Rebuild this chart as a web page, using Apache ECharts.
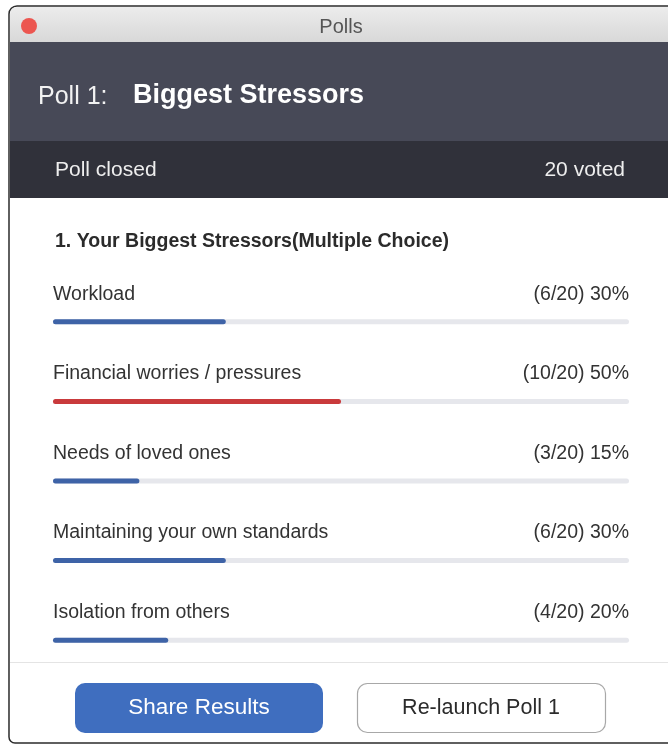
<!DOCTYPE html>
<html>
<head>
<meta charset="utf-8">
<script src="https://cdn.jsdelivr.net/npm/echarts@6/dist/echarts.min.js"></script>
<style>
html,body{margin:0;padding:0;background:#fff;}
#chart{width:668px;height:748px;}
</style>
</head>
<body>
<div id="chart"></div>
<script>
const categories = ['Workload', 'Financial worries / pressures', 'Needs of loved ones', 'Maintaining your own standards', 'Isolation from others'];
const votes = [6, 10, 3, 6, 4];
const totalVoted = 20;
const percentLabels = ['30%', '50%', '15%', '30%', '20%'];
const highlightIndex = 1;

const FONT = '"Liberation Sans", Arial, Helvetica, sans-serif';
const chart = echarts.init(document.getElementById('chart'), null, {renderer: 'canvas'});

const option = {
  animation: false,
  backgroundColor: '#ffffff',
  grid: {left: 53, right: 39, top: 282, height: 398, containLabel: false},
  xAxis: {type: 'value', min: 0, max: totalVoted, show: false},
  yAxis: {type: 'category', data: categories, inverse: true, show: false},
  graphic: [
    {type: 'rect', shape: {x: 9, y: 6, width: 680, height: 737, r: [8, 0, 0, 6]}, style: {fill: '#ffffff', stroke: '#2b2b2b', lineWidth: 1.5}, z: 0},
    {type: 'rect', shape: {x: 10, y: 7, width: 670, height: 35, r: [7, 0, 0, 0]},
      style: {fill: new echarts.graphic.LinearGradient(0, 0, 0, 1, [{offset: 0, color: '#ececec'}, {offset: 1, color: '#d8d8d8'}])}, z: 1},
    {type: 'circle', shape: {cx: 29, cy: 26, r: 8}, style: {fill: '#ec5650'}, z: 2},
    {type: 'text', x: 341, y: 27, style: {text: 'Polls', font: '20px ' + FONT, fill: '#555555', align: 'center', verticalAlign: 'middle'}, z: 2},
    {type: 'rect', shape: {x: 10, y: 42, width: 670, height: 99}, style: {fill: '#474957'}, z: 1},
    {type: 'text', x: 38, y: 97, style: {text: 'Poll 1:', font: '25px ' + FONT, fill: '#f2f2f2', verticalAlign: 'middle'}, z: 2},
    {type: 'text', x: 133, y: 96, style: {text: 'Biggest Stressors', font: 'bold 27px ' + FONT, fill: '#ffffff', verticalAlign: 'middle'}, z: 2},
    {type: 'rect', shape: {x: 10, y: 141, width: 670, height: 57}, style: {fill: '#30313a'}, z: 1},
    {type: 'text', x: 55, y: 170, style: {text: 'Poll closed', font: '21px ' + FONT, fill: '#eeeeee', verticalAlign: 'middle'}, z: 2},
    {type: 'text', x: 625, y: 170, style: {text: totalVoted + ' voted', font: '21px ' + FONT, fill: '#eeeeee', align: 'right', verticalAlign: 'middle'}, z: 2},
    {type: 'text', x: 55, y: 242, style: {text: '1. Your Biggest Stressors(Multiple Choice)', font: 'bold 19.5px ' + FONT, fill: '#2b2b2b', verticalAlign: 'middle'}, z: 2},
    {type: 'line', shape: {x1: 10, y1: 662.5, x2: 668, y2: 662.5}, style: {stroke: '#e4e4e4', lineWidth: 1}, z: 2},
    {type: 'rect', shape: {x: 75, y: 683, width: 248, height: 50, r: 10}, style: {fill: '#3f6ebf'}, z: 2},
    {type: 'text', x: 199, y: 708, style: {text: 'Share Results', font: '22.5px ' + FONT, fill: '#ffffff', align: 'center', verticalAlign: 'middle'}, z: 3},
    {type: 'rect', shape: {x: 357.5, y: 683.5, width: 248, height: 49, r: 10}, style: {fill: '#ffffff', stroke: '#a8a8a8', lineWidth: 1.2}, z: 2},
    {type: 'text', x: 481, y: 708, style: {text: 'Re-launch Poll 1', font: '21.5px ' + FONT, fill: '#2b2b2b', align: 'center', verticalAlign: 'middle'}, z: 3}
  ],
  series: [
    {
      name: 'track',
      type: 'bar',
      barWidth: 5,
      z: 2,
      data: categories.map(() => totalVoted),
      itemStyle: {color: '#e6e7ec', borderRadius: 3},
      label: {
        show: true,
        position: ['100%', -25],
        align: 'right',
        verticalAlign: 'middle',
        fontSize: 19.5,
        fontFamily: FONT,
        color: '#333333',
        formatter: p => '(' + votes[p.dataIndex] + '/' + totalVoted + ') ' + percentLabels[p.dataIndex]
      },
      silent: true
    },
    {
      name: 'votes',
      type: 'bar',
      barWidth: 5,
      barGap: '-100%',
      z: 3,
      data: votes.map((v, i) => ({value: v, itemStyle: {color: i === highlightIndex ? '#c93a3c' : '#3e63a7'}})),
      itemStyle: {borderRadius: 3},
      label: {
        show: true,
        position: [0, -25],
        align: 'left',
        verticalAlign: 'middle',
        fontSize: 19.5,
        fontFamily: FONT,
        color: '#333333',
        formatter: p => categories[p.dataIndex]
      }
    }
  ]
};
chart.setOption(option);
</script>
</body>
</html>
